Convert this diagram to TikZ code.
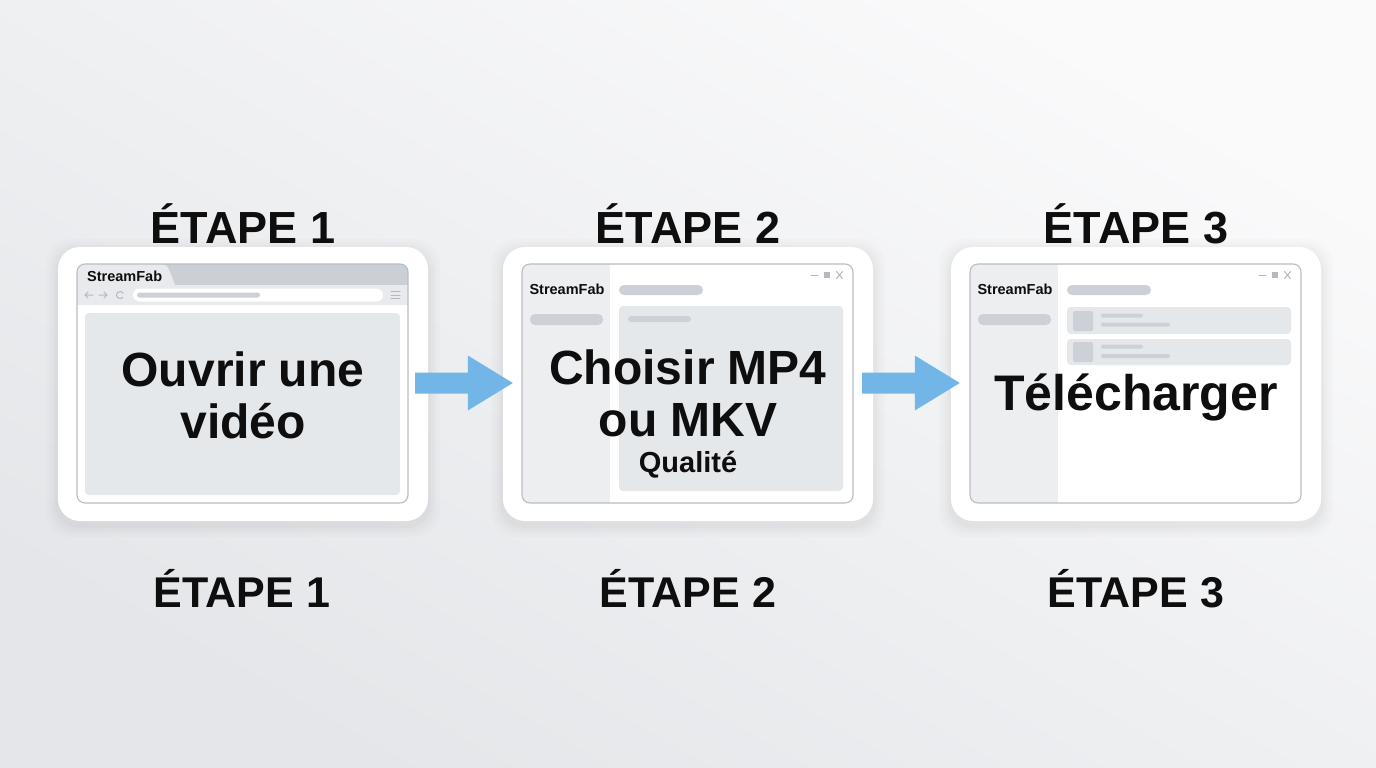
\documentclass[tikz,border=0pt]{standalone}
\usepackage{fontspec}
\setmainfont{Liberation Sans}
\usetikzlibrary{calc}
\definecolor{bgA}{HTML}{FAFAFB}
\definecolor{bgB}{HTML}{E4E6E9}
\definecolor{winborder}{HTML}{B9BDC3}
\definecolor{barc}{HTML}{CBD0D6}
\definecolor{tabc}{HTML}{E8EAED}
\definecolor{panelc}{HTML}{E5E8EB}
\definecolor{sidec}{HTML}{ECEEF0}
\definecolor{pillc}{HTML}{CDD1D7}
\definecolor{iconc}{HTML}{B4B8BE}
\definecolor{arrowc}{HTML}{72B6E8}
\definecolor{inkc}{HTML}{0E0E0E}
\tikzset{
  cardbox/.style={fill=white, rounded corners=22pt, minimum width=370pt, minimum height=274pt, inner sep=0pt, draw=none},
  winframe/.style={draw=winborder, line width=1.1pt, rounded corners=8pt},
  bigtext/.style={font=\fontsize{48}{56}\selectfont\bfseries, text=inkc, anchor=base, inner sep=0pt},
  steptitle/.style={font=\fontsize{45}{52}\selectfont\bfseries, text=inkc, anchor=base, inner sep=0pt},
  steplow/.style={font=\fontsize{43}{50}\selectfont\bfseries, text=inkc, anchor=base, inner sep=0pt},
  brand/.style={font=\fontsize{14.5}{17}\selectfont\bfseries, text=inkc, anchor=base, inner sep=0pt},
  pill/.style={fill=pillc, rounded corners=5pt},
  iconline/.style={draw=iconc, line width=1pt, line cap=round},
  blockarrow/.style={fill=arrowc},
}
\newcommand\cardshadow[2]{%
  \foreach \e/\o in {12/0.010,9/0.012,6/0.015,3/0.02}{
    \fill[black, opacity=\o, rounded corners=24pt] (#1-\e,247-\e+4) rectangle (#2+\e,521+\e+4);
  }}
\begin{document}
\begin{tikzpicture}[x=1pt,y=-1pt]
\useasboundingbox (0,0) rectangle (1376,768);
\shade[top color=bgA, bottom color=bgB, shading angle=-30] (0,0) rectangle (1376,768);

% ---------- shadows and cards ----------
\cardshadow{58}{428}
\cardshadow{503}{873}
\cardshadow{951}{1321}
\node[cardbox] (card1) at (243,384) {};
\node[cardbox] (card2) at (688,384) {};
\node[cardbox] (card3) at (1136,384) {};

% ---------- card 1 : browser ----------
\begin{scope}
  \clip[rounded corners=8pt] (77,264) rectangle (408,503);
  \fill[white] (77,264) rectangle (408,503);
  \fill[barc] (77,264) rectangle (408,285);
  \fill[tabc] (77,285) -- (77,264) -- (161,264) .. controls (166,264) and (168,267) .. (170,272) -- (175,285) -- cycle;
  \fill[tabc] (77,285) rectangle (408,305);
  \fill[panelc, rounded corners=4pt] (85,313) rectangle (400,495);
\end{scope}
\draw[winframe] (77,264) rectangle (408,503);
\node[brand, anchor=base west] (brand1) at (87,281) {StreamFab};
% toolbar icons
\draw[iconline] (93,295) -- (85,295) (88,292) -- (85,295) -- (88,298);
\draw[iconline] (99,295) -- (107,295) (104,292) -- (107,295) -- (104,298);
\draw[iconline] (122.8,297.3) arc[start angle=40, end angle=330, radius=3.6];
\fill[white, rounded corners=6.5pt] (133,288.5) rectangle (383,301.5);
\fill[pillc, rounded corners=2.5pt] (137,292.5) rectangle (260,297.5);
\draw[iconline] (391,291.5) -- (400,291.5) (391,295) -- (400,295) (391,298.5) -- (400,298.5);
\node[bigtext] (t1a) at (243,386) {Ouvrir une};
\node[bigtext] (t1b) at (243,438) {vidéo};

% ---------- card 2 : app, format ----------
\begin{scope}
  \clip[rounded corners=8pt] (522,264) rectangle (853,503);
  \fill[white] (522,264) rectangle (853,503);
  \fill[sidec] (522,264) rectangle (610,503);
  \fill[panelc, rounded corners=4pt] (619,306) rectangle (843,491);
\end{scope}
\draw[winframe] (522,264) rectangle (853,503);
\node[brand] (brand2) at (567,294) {StreamFab};
\fill[pill] (619,285) rectangle (703,295);
\fill[pill] (530,314) rectangle (603,325);
\fill[pillc, rounded corners=3pt] (628,316) rectangle (691,322);
\draw[iconline] (811,275) -- (818,275);
\fill[iconc] (824,272) rectangle (830,278);
\draw[iconline] (836.5,271.5) -- (842.5,278.5) (836.5,278.5) -- (842.5,271.5);
\node[bigtext] (t2a) at (688,384) {Choisir MP4};
\node[bigtext] (t2b) at (688,436) {ou MKV};
\node[bigtext, font=\fontsize{29}{34}\selectfont\bfseries] (t2c) at (688,472) {Qualité};

% ---------- card 3 : app, download ----------
\begin{scope}
  \clip[rounded corners=8pt] (970,264) rectangle (1301,503);
  \fill[white] (970,264) rectangle (1301,503);
  \fill[sidec] (970,264) rectangle (1058,503);
\end{scope}
\draw[winframe] (970,264) rectangle (1301,503);
\node[brand] (brand3) at (1015,294) {StreamFab};
\fill[pill] (1067,285) rectangle (1151,295);
\fill[pill] (978,314) rectangle (1051,325);
\fill[panelc, rounded corners=4pt] (1067,307) rectangle (1291,334);
\fill[panelc, rounded corners=4pt] (1067,339) rectangle (1291,365);
\fill[pillc, rounded corners=1.5pt] (1073,311) rectangle (1093,331);
\fill[pillc, rounded corners=1.5pt] (1073,342) rectangle (1093,362);
\fill[pillc, rounded corners=2pt] (1101,313.5) rectangle (1143,317.5);
\fill[pillc, rounded corners=2pt] (1101,322.5) rectangle (1170,326.5);
\fill[pillc, rounded corners=2pt] (1101,344.5) rectangle (1143,348.5);
\fill[pillc, rounded corners=2pt] (1101,354) rectangle (1170,358);
\draw[iconline] (1259,275) -- (1266,275);
\fill[iconc] (1272,272) rectangle (1278,278);
\draw[iconline] (1284.5,271.5) -- (1290.5,278.5) (1284.5,278.5) -- (1290.5,271.5);
\node[bigtext, font=\fontsize{50}{58}\selectfont\bfseries] (t3a) at (1136,410) {Télécharger};

% ---------- arrows ----------
\coordinate (a1s) at ($(card1.east)+(-13,-1)$);
\coordinate (a1t) at ($(card2.west)+(10,-1)$);
\coordinate (a2s) at ($(card2.east)+(-11,-1)$);
\coordinate (a2t) at ($(card3.west)+(9,-1)$);
\foreach \s/\t in {a1s/a1t,a2s/a2t}{
  \fill[blockarrow] ($(\s)+(0,-10.5)$) -- ($(\t)+(-45,-10.5)$) -- ($(\t)+(-45,-27.5)$) -- (\t)
     -- ($(\t)+(-45,27.5)$) -- ($(\t)+(-45,10.5)$) -- ($(\s)+(0,10.5)$) -- cycle;
}

% ---------- step titles ----------
\node[steptitle] (s1top) at (243,243) {ÉTAPE 1};
\node[steptitle] (s2top) at (688,243) {ÉTAPE 2};
\node[steptitle] (s3top) at (1136,243) {ÉTAPE 3};
\node[steplow] (s1bot) at (242,607) {ÉTAPE 1};
\node[steplow] (s2bot) at (688,607) {ÉTAPE 2};
\node[steplow] (s3bot) at (1136,607) {ÉTAPE 3};
\end{tikzpicture}
\end{document}
